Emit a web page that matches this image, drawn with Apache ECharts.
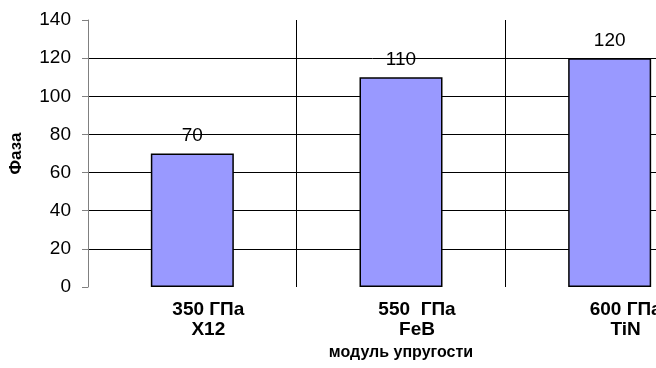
<!DOCTYPE html>
<html>
<head>
<meta charset="utf-8">
<script src="https://cdn.jsdelivr.net/npm/echarts@6/dist/echarts.min.js"></script>
<style>
  html, body { margin: 0; padding: 0; background: #fff; }
  #chart { width: 656px; height: 368px; }
</style>
</head>
<body>
<div id="chart"></div>
<script>
// Categories: elastic modulus and material
const categories = ['350 ГПа\nX12', '550  ГПа\nFeB', '600 ГПа\nTiN'];
// Phase values per material
const phaseValues = [70, 110, 120];
// Value axis settings
const yMin = 0;
const yMax = 140;
const yStep = 20;

const FONT = '"Liberation Sans", Arial, sans-serif';

const chart = echarts.init(document.getElementById('chart'), null, { renderer: 'canvas' });
chart.setOption({
  animation: false,
  backgroundColor: '#ffffff',
  grid: { left: 88, top: 20, width: 626, height: 267, containLabel: false, outerBoundsMode: 'none' },
  xAxis: {
    type: 'category',
    data: categories,
    name: 'модуль упругости',
    nameLocation: 'middle',
    nameGap: 56,
    nameTextStyle: { fontFamily: FONT, fontSize: 16, fontWeight: 'bold', color: '#000' },
    axisLine: { show: false },
    axisTick: { show: false },
    axisLabel: {
      fontFamily: FONT, fontSize: 19, fontWeight: 'bold', color: '#000',
      lineHeight: 20, margin: 13, padding: [0, 0, 0, 32]
    },
    splitLine: { show: true, showMinLine: false, lineStyle: { color: '#000', width: 1 } }
  },
  yAxis: {
    type: 'value',
    min: yMin, max: yMax, interval: yStep,
    name: 'Фаза',
    nameLocation: 'middle',
    nameGap: 63,
    nameTextStyle: { fontFamily: FONT, fontSize: 17, fontWeight: 'bold', color: '#000' },
    axisLine: { show: true, lineStyle: { color: '#808080', width: 1 } },
    axisTick: { show: true, length: 6, lineStyle: { color: '#808080', width: 1 } },
    axisLabel: { fontFamily: FONT, fontSize: 19, color: '#000', margin: 17 },
    splitLine: { show: true, showMinLine: false, showMaxLine: false, lineStyle: { color: '#000', width: 1 } }
  },
  series: [{
    type: 'bar',
    data: phaseValues,
    barWidth: 83,
    itemStyle: { color: '#9999ff', borderColor: '#000', borderWidth: 1.5 },
    label: {
      show: true, position: 'top', distance: 8,
      fontFamily: FONT, fontSize: 19, color: '#000'
    }
  }]
});
</script>
</body>
</html>
